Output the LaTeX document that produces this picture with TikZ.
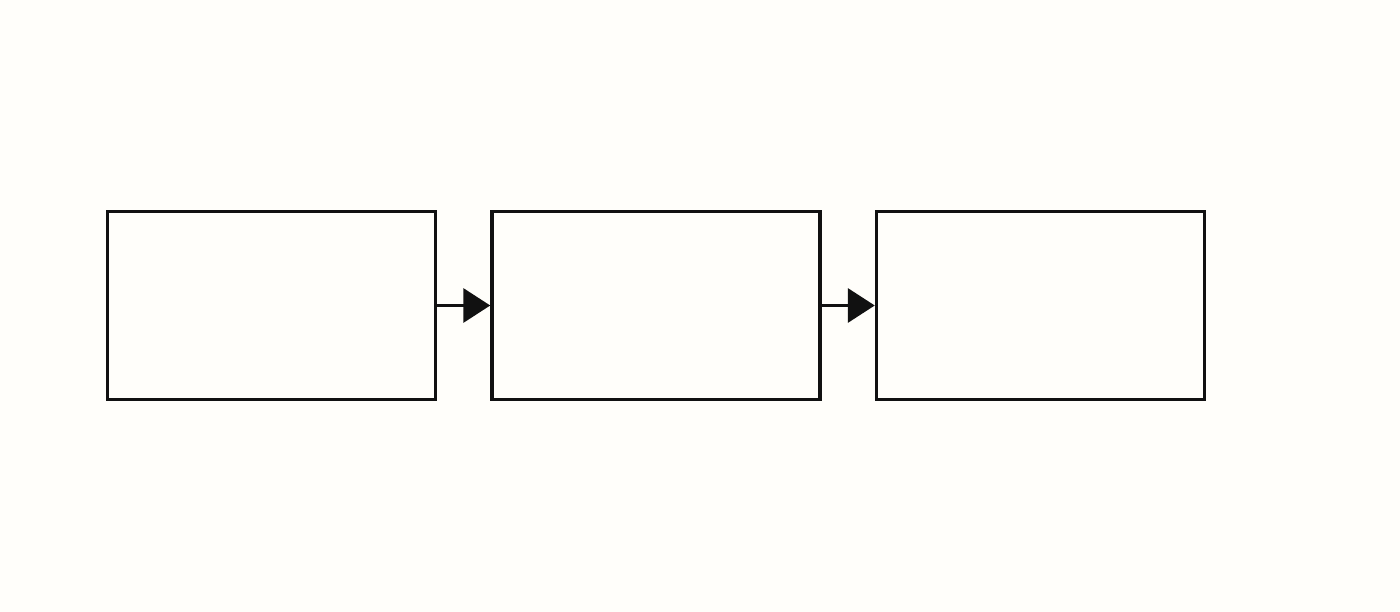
\documentclass[tikz,border=0pt]{standalone}
\usepackage{tikz}
\usetikzlibrary{positioning}
\usetikzlibrary{arrows.meta}
\definecolor{paper}{HTML}{FFFEFA}
\definecolor{ink}{HTML}{111111}

\begin{document}
\begin{tikzpicture}[->,>={Triangle[length=0.54cm,width=0.68cm]},
  line width=2pt,draw=ink,
  stage box/.style={draw=ink,rectangle,minimum width=6.56cm,minimum height=3.76cm}]

  \fill[paper] (0,0) rectangle (28,12.24);
  \useasboundingbox (0,0) rectangle (28,12.24);

  \node[stage box] (1) at (5.43,6.13) {};
  \node[stage box] (2) [right=1.06cm of 1] {};
  \node[stage box] (3) [right=1.06cm of 2] {};

  \path[draw=ink]
    (1) edge (2)
    (2) edge (3);
\end{tikzpicture}
\end{document}
